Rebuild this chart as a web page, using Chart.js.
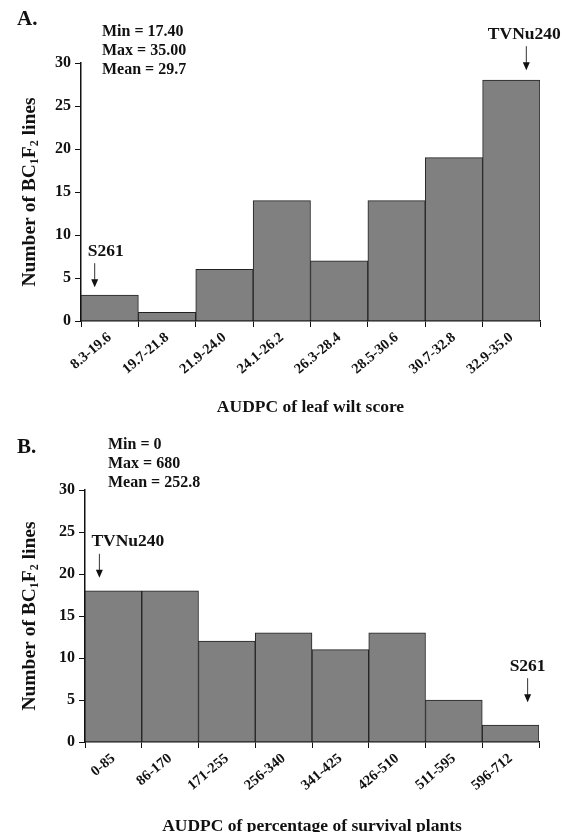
<!DOCTYPE html>
<html>
<head>
	<meta charset="utf-8">
	<title>AUDPC distribution of BC1F2 lines</title>
	<script src="https://cdn.jsdelivr.net/npm/chart.js"></script>
	<style>
	body { margin: 0; background: #fff; }
	.panel { position: relative; width: 580px; height: 416px; }
	</style>
</head>
<body>
<div class="panel"><canvas id="chartA" width="580" height="416"></canvas></div>
<div class="panel"><canvas id="chartB" width="580" height="416"></canvas></div>

<script>
// panel A : AUDPC of leaf wilt score
const wiltBins = ['8.3-19.6', '19.7-21.8', '21.9-24.0', '24.1-26.2', '26.3-28.4', '28.5-30.6', '30.7-32.8', '32.9-35.0'];
const wiltCounts = [3, 1, 6, 14, 7, 14, 19, 28];
const wiltStats = ['Min = 17.40', 'Max = 35.00', 'Mean = 29.7'];

// panel B : AUDPC of percentage of survival plants
const survivalBins = ['0-85', '86-170', '171-255', '256-340', '341-425', '426-510', '511-595', '596-712'];
const survivalCounts = [18, 18, 12, 13, 11, 13, 5, 2];
const survivalStats = ['Min = 0', 'Max = 680', 'Mean = 252.8'];

const yTicks = [0, 5, 10, 15, 20, 25, 30];

const serif = "'Liberation Serif', 'Times New Roman', serif";

// draws panel letter, stats, axis titles and the parent arrows
const decorPlugin = {
	id: 'decor',
	afterDraw(chart, args, opts) {
		const ctx = chart.ctx;
		const area = chart.chartArea;
		const x = chart.scales.x, y = chart.scales.y;
		ctx.save();
		ctx.fillStyle = '#111';
		ctx.textBaseline = 'middle';

		ctx.font = 'bold 21px ' + serif;
		ctx.textAlign = 'left';
		ctx.fillText(opts.letter, opts.letterX, opts.letterY);

		ctx.font = 'bold 16px ' + serif;
		opts.stats.forEach((s, i) => ctx.fillText(s, opts.statsX, opts.statsY + i * 19));

		// x title
		ctx.textAlign = 'center';
		ctx.font = 'bold 17.5px ' + serif;
		ctx.fillText(opts.xTitle, (area.left + area.right) / 2, opts.xTitleY);

		// y title with subscripts
		const parts = [['Number of BC', 0], ['1', 1], ['F', 0], ['2', 1], [' lines', 0]];
		const big = 'bold 19.5px ' + serif, small = 'bold 12px ' + serif;
		let total = 0;
		parts.forEach(p => { ctx.font = p[1] ? small : big; total += ctx.measureText(p[0]).width; });
		ctx.translate(opts.yTitleX, (area.top + area.bottom) / 2);
		ctx.rotate(-Math.PI / 2);
		ctx.textAlign = 'left';
		let pos = -total / 2;
		parts.forEach(p => {
			ctx.font = p[1] ? small : big;
			ctx.fillText(p[0], pos, p[1] ? 5 : 0);
			pos += ctx.measureText(p[0]).width;
		});
		ctx.setTransform(1, 0, 0, 1, 0, 0);

		// arrows
		opts.arrows.forEach(a => {
			const ax = x.getPixelForValue(a.index) + a.dx;
			const tip = y.getPixelForValue(chart.data.datasets[0].data[a.index]) - a.gap;
			const top = tip - 24;
			ctx.strokeStyle = '#333';
			ctx.lineWidth = 1;
			ctx.beginPath();
			ctx.moveTo(ax, top);
			ctx.lineTo(ax, tip - 6);
			ctx.stroke();
			ctx.fillStyle = '#111';
			ctx.beginPath();
			ctx.moveTo(ax - 3.5, tip - 8);
			ctx.lineTo(ax + 3.5, tip - 8);
			ctx.lineTo(ax, tip);
			ctx.closePath();
			ctx.fill();
			ctx.font = 'bold 17.5px ' + serif;
			ctx.textAlign = a.align;
			ctx.fillText(a.text, ax + a.labelDx, top - 12);
		});
		ctx.restore();
	}
};

function makeChart(id, labels, counts, cfg) {
	return new Chart(document.getElementById(id), {
		type: 'bar',
		data: {
			labels: labels,
			datasets: [{
				data: counts,
				backgroundColor: '#808080',
				borderColor: '#222',
				borderWidth: 1,
				categoryPercentage: 1,
				barPercentage: 1
			}]
		},
		plugins: [decorPlugin],
		options: {
			responsive: false,
			animation: false,
			layout: { padding: { left: 0, top: cfg.top, right: cfg.right, bottom: 0 } },
			plugins: {
				legend: { display: false },
				tooltip: { enabled: false },
				decor: cfg.decor
			},
			scales: {
				x: {
					afterFit: s => { s.height = cfg.xHeight; },
					grid: { offset: true, drawOnChartArea: false, tickLength: 6, color: '#111' },
					border: { color: '#111', width: 1.5 },
					ticks: {
						color: '#111', maxRotation: 40, minRotation: 40, padding: 2,
						font: { family: serif, size: 14.5, weight: 'bold' }
					}
				},
				y: {
					min: 0, max: 30,
					afterFit: s => { s.width = cfg.left; },
					afterBuildTicks: s => { s.ticks = yTicks.map(v => ({ value: v })); },
					grid: { drawOnChartArea: false, tickLength: 6, color: '#111' },
					border: { color: '#111', width: 1.5 },
					ticks: {
						color: '#111', padding: 4,
						font: { family: serif, size: 16, weight: 'bold' }
					}
				}
			}
		}
	});
}

makeChart('chartA', wiltBins, wiltCounts, {
	top: 63, right: 40, left: 81, xHeight: 95,
	decor: {
		letter: 'A.', letterX: 17, letterY: 20,
		stats: wiltStats, statsX: 102, statsY: 32,
		xTitle: 'AUDPC of leaf wilt score', xTitleY: 407,
		yTitleX: 30,
		arrows: [
			{ index: 0, text: 'S261', dx: -15, gap: 8, align: 'left', labelDx: -7 },
			{ index: 7, text: 'TVNu240', dx: 15, gap: 10, align: 'center', labelDx: -2 }
		]
	}
});

makeChart('chartB', survivalBins, survivalCounts, {
	top: 74, right: 41, left: 85, xHeight: 90,
	decor: {
		letter: 'B.', letterX: 17, letterY: 32,
		stats: survivalStats, statsX: 108, statsY: 29,
		xTitle: 'AUDPC of percentage of survival plants', xTitleY: 410,
		yTitleX: 30,
		arrows: [
			{ index: 0, text: 'TVNu240', dx: -14, gap: 13, align: 'left', labelDx: -8 },
			{ index: 7, text: 'S261', dx: 17, gap: 23, align: 'center', labelDx: 0 }
		]
	}
});
</script>
</body>
</html>
